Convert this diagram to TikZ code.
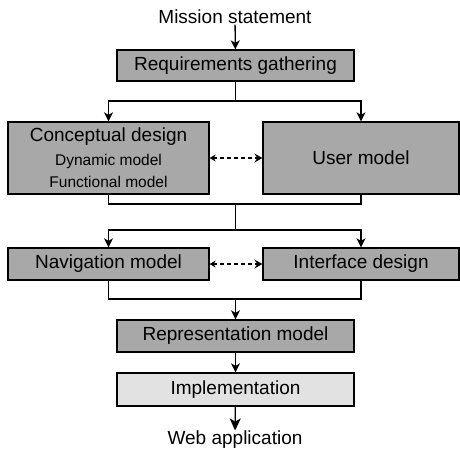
\documentclass[tikz,border=0pt]{standalone}
\usepackage{fontspec}
\setmainfont{Liberation Sans}
\usepackage{tikz}
\usetikzlibrary{arrows.meta}
\usetikzlibrary{positioning}

\definecolor{boxgray}{RGB}{168,168,168}
\definecolor{implgray}{RGB}{226,226,226}

\begin{document}
\begin{tikzpicture}[x=1pt,y=-1pt,->,>={Stealth[length=9pt,width=9pt,inset=2.5pt]},line width=1.3pt,
                    every node/.append style={font=\fontsize{19}{22}\selectfont,inner sep=0pt},
                    box/.style={draw,fill=boxgray,minimum height=31pt},
                    dashlink/.style={{Stealth[length=6pt,width=7pt,inset=2pt]}-{Stealth[length=8pt,width=9pt,inset=3pt]},dash pattern=on 4pt off 3pt}]

\useasboundingbox (0,0) rectangle (460,451);

\node (mission) at (235,17) {Mission statement};
\node [box,minimum width=237pt] (req) at (235.5,65.5) {Requirements gathering};
\node [box,minimum width=201pt,minimum height=72pt,align=center] (concept) at (108.5,158)
      {Conceptual design\\[2pt]{\fontsize{15.5}{21}\selectfont Dynamic model}\\{\fontsize{15.5}{21}\selectfont Functional model}};
\node [box,minimum width=196pt,minimum height=72pt] (user) at (361,158) {User model};
\node [box,minimum width=201pt,minimum height=32pt] (nav) at (108.5,264) {Navigation model};
\node [box,minimum width=196pt,minimum height=32pt] (iface) at (361,264) {Interface design};
\node [box,minimum width=237pt,minimum height=32pt] (rep) at (235.5,336) {Representation model};
\node [box,fill=implgray,minimum width=237pt,minimum height=33pt] (impl) at (235.5,389.5) {Implementation};
\node (web) at (235,440) {Web application};

\coordinate (split1) at (235.5,101);
\coordinate (merge1) at (235.5,204);
\coordinate (split2) at (235.5,230);
\coordinate (merge2) at (235.5,299);

\draw (mission) -- (req);
\draw [-] (req) -- (split1);
\draw (split1) -| (concept);
\draw (split1) -| (user);
\draw [dashlink] (concept) -- (user);

\draw [-] (concept.south) |- (merge1) -| (user.south);
\draw [-] (merge1) -- (split2);
\draw (split2) -| (nav);
\draw (split2) -| (iface);
\draw [dashlink] (nav) -- (iface);

\draw [-] (nav.south) |- (merge2) -| (iface.south);
\draw (merge2) -- (rep);
\draw (rep) -- (impl);
\draw [-{Stealth[length=12pt,width=11pt,inset=3pt]}] (impl) -- (web);

\end{tikzpicture}
\end{document}
